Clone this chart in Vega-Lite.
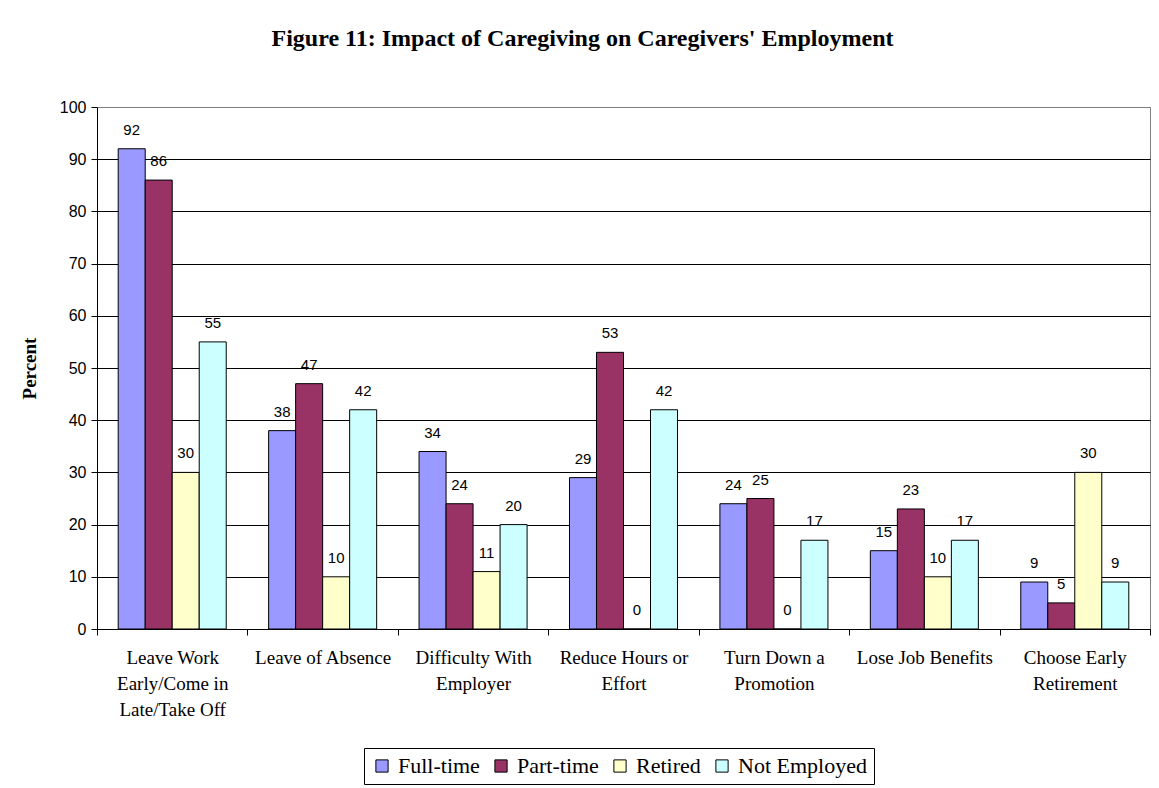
{
  "$schema": "https://vega.github.io/schema/vega-lite/v6.json",
  "autosize": "none",
  "width": 1053,
  "height": 522,
  "padding": {"left": 97, "top": 107, "right": 9, "bottom": 159},
  "background": "white",
  "title": {
    "text": "Figure 11: Impact of Caregiving on Caregivers' Employment",
    "font": "Liberation Serif",
    "fontSize": 24,
    "fontWeight": "bold",
    "color": "black",
    "anchor": "middle",
    "dx": -41,
    "offset": 48
  },
  "data": {
    "values": [
      {"cat": "Leave Work|Early/Come in|Late/Take Off", "group": "Full-time", "value": 92},
      {"cat": "Leave Work|Early/Come in|Late/Take Off", "group": "Part-time", "value": 86},
      {"cat": "Leave Work|Early/Come in|Late/Take Off", "group": "Retired", "value": 30},
      {"cat": "Leave Work|Early/Come in|Late/Take Off", "group": "Not Employed", "value": 55},
      {"cat": "Leave of Absence", "group": "Full-time", "value": 38},
      {"cat": "Leave of Absence", "group": "Part-time", "value": 47},
      {"cat": "Leave of Absence", "group": "Retired", "value": 10},
      {"cat": "Leave of Absence", "group": "Not Employed", "value": 42},
      {"cat": "Difficulty With|Employer", "group": "Full-time", "value": 34},
      {"cat": "Difficulty With|Employer", "group": "Part-time", "value": 24},
      {"cat": "Difficulty With|Employer", "group": "Retired", "value": 11},
      {"cat": "Difficulty With|Employer", "group": "Not Employed", "value": 20},
      {"cat": "Reduce Hours or|Effort", "group": "Full-time", "value": 29},
      {"cat": "Reduce Hours or|Effort", "group": "Part-time", "value": 53},
      {"cat": "Reduce Hours or|Effort", "group": "Retired", "value": 0},
      {"cat": "Reduce Hours or|Effort", "group": "Not Employed", "value": 42},
      {"cat": "Turn Down a|Promotion", "group": "Full-time", "value": 24},
      {"cat": "Turn Down a|Promotion", "group": "Part-time", "value": 25},
      {"cat": "Turn Down a|Promotion", "group": "Retired", "value": 0},
      {"cat": "Turn Down a|Promotion", "group": "Not Employed", "value": 17},
      {"cat": "Lose Job Benefits", "group": "Full-time", "value": 15},
      {"cat": "Lose Job Benefits", "group": "Part-time", "value": 23},
      {"cat": "Lose Job Benefits", "group": "Retired", "value": 10},
      {"cat": "Lose Job Benefits", "group": "Not Employed", "value": 17},
      {"cat": "Choose Early|Retirement", "group": "Full-time", "value": 9},
      {"cat": "Choose Early|Retirement", "group": "Part-time", "value": 5},
      {"cat": "Choose Early|Retirement", "group": "Retired", "value": 30},
      {"cat": "Choose Early|Retirement", "group": "Not Employed", "value": 9}
    ]
  },
  "encoding": {
    "x": {
      "field": "cat",
      "type": "nominal",
      "sort": null,
      "scale": {"paddingInner": 0, "paddingOuter": 0},
      "axis": {
        "title": null,
        "labelAngle": 0,
        "labelExpr": "split(datum.label, '|')",
        "labelFont": "Liberation Serif",
        "labelFontSize": 19,
        "labelColor": "black",
        "labelLineHeight": 26,
        "labelPadding": 22,
        "labelBaseline": "middle",
        "tickBand": "extent",
        "tickSize": 6,
        "tickColor": "black",
        "domainColor": "black",
        "grid": false
      }
    },
    "xOffset": {
      "field": "group",
      "type": "nominal",
      "sort": ["Full-time", "Part-time", "Retired", "Not Employed"],
      "scale": {"paddingInner": 0, "paddingOuter": 0.785}
    },
    "y": {
      "field": "value",
      "type": "quantitative",
      "scale": {"domain": [0, 100], "nice": false},
      "axis": {
        "title": "Percent",
        "titleFont": "Liberation Serif",
        "titleFontSize": 19,
        "titleFontWeight": "bold",
        "titleColor": "black",
        "titlePadding": 20,
        "values": [0, 10, 20, 30, 40, 50, 60, 70, 80, 90, 100],
        "labelFont": "Liberation Sans",
        "labelFontSize": 16,
        "labelColor": "black",
        "labelPadding": 5,
        "tickSize": 6,
        "tickColor": "black",
        "domainColor": "black",
        "grid": true,
        "gridColor": {"condition": {"test": "datum.value == 100", "value": "#808080"}, "value": "black"},
        "gridOpacity": 1
      }
    }
  },
  "layer": [
    {
      "mark": {"type": "bar", "stroke": "black", "strokeWidth": 1},
      "encoding": {
        "color": {
          "field": "group",
          "type": "nominal",
          "sort": ["Full-time", "Part-time", "Retired", "Not Employed"],
          "scale": {
            "domain": ["Full-time", "Part-time", "Retired", "Not Employed"],
            "range": ["#9999FF", "#993366", "#FFFFCC", "#CCFFFF"]
          },
          "legend": {
            "title": null,
            "orient": "none",
            "direction": "horizontal",
            "legendX": 267,
            "legendY": 641,
            "labelFont": "Liberation Serif",
            "labelFontSize": 22,
            "labelColor": "black",
            "labelLimit": 400,
            "symbolType": "square",
            "symbolSize": 150,
            "symbolStrokeColor": "black",
            "symbolStrokeWidth": 1,
            "symbolOpacity": 1,
            "columnPadding": 10,
            "labelOffset": 5,
            "strokeColor": "black",
            "padding": 7,
            "fillColor": "white"
          }
        }
      }
    },
    {
      "mark": {"type": "text", "baseline": "bottom", "dy": -11, "font": "Liberation Sans", "fontSize": 15, "color": "black"},
      "encoding": {
        "text": {"field": "value", "type": "quantitative"}
      }
    }
  ],
  "config": {
    "view": {"stroke": "#808080", "strokeWidth": 1},
    "legend": {"labelFont": "Liberation Serif"},
    "style": {"guide-label": {"font": "Liberation Serif"}}
  }
}
